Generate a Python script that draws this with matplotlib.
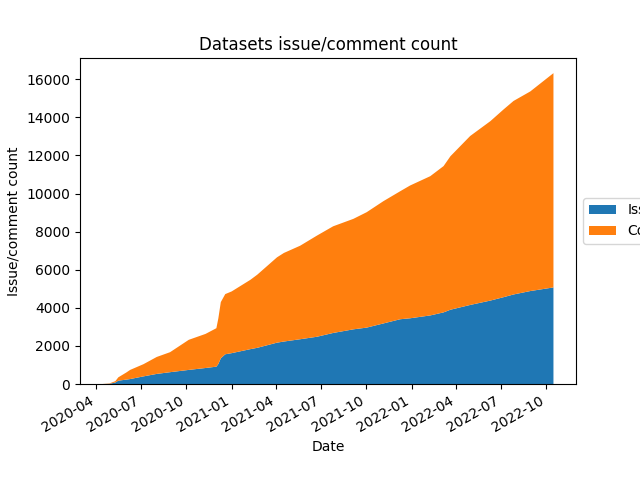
import matplotlib
matplotlib.use("Agg")
import matplotlib.pyplot as plt
import pandas as pd

# values
dates = ["2020-04-14", "2020-04-28", "2020-05-10", "2020-05-16", "2020-06-01",
         "2020-06-09", "2020-07-06", "2020-08-02", "2020-08-29", "2020-10-06",
         "2020-11-09", "2020-12-01", "2020-12-05", "2020-12-10", "2020-12-19",
         "2021-01-01", "2021-02-08", "2021-02-22", "2021-04-03", "2021-04-17",
         "2021-05-20", "2021-06-23", "2021-07-26", "2021-09-05", "2021-10-02",
         "2021-11-05", "2021-12-09", "2021-12-29", "2022-02-08", "2022-03-07",
         "2022-03-21", "2022-04-30", "2022-06-10", "2022-07-07", "2022-07-27",
         "2022-08-30", "2022-10-16"]
issues = [0, 10, 80, 175, 230, 260, 400, 530, 620, 740,
          840, 910, 1050, 1350, 1560, 1620, 1830, 1900, 2170, 2230,
          2350, 2480, 2680, 2870, 2960, 3180, 3400, 3450, 3600, 3760,
          3900, 4150, 4380, 4560, 4700, 4880, 5070]
comments = [0, 20, 70, 175, 370, 480, 640, 890, 1050, 1580,
            1790, 2020, 2400, 2950, 3160, 3240, 3640, 3840, 4480, 4650,
            4910, 5310, 5600, 5800, 6060, 6420, 6720, 6970, 7310, 7680,
            8060, 8870, 9420, 9860, 10160, 10480, 11250]

x = pd.to_datetime(dates)

fig, ax = plt.subplots(figsize=(6.4, 4.8), dpi=100)
ax.stackplot(x, issues, comments, labels=["Issues", "Comments"])
ax.set_title("Datasets issue/comment count")
ax.set_xlabel("Date")
ax.set_ylabel("Issue/comment count")
# legend sits outside the axes on the right, cut off like in the original
ax.legend(loc="center left", bbox_to_anchor=(1, 0.5))
fig.autofmt_xdate()
fig.savefig("out.png")
